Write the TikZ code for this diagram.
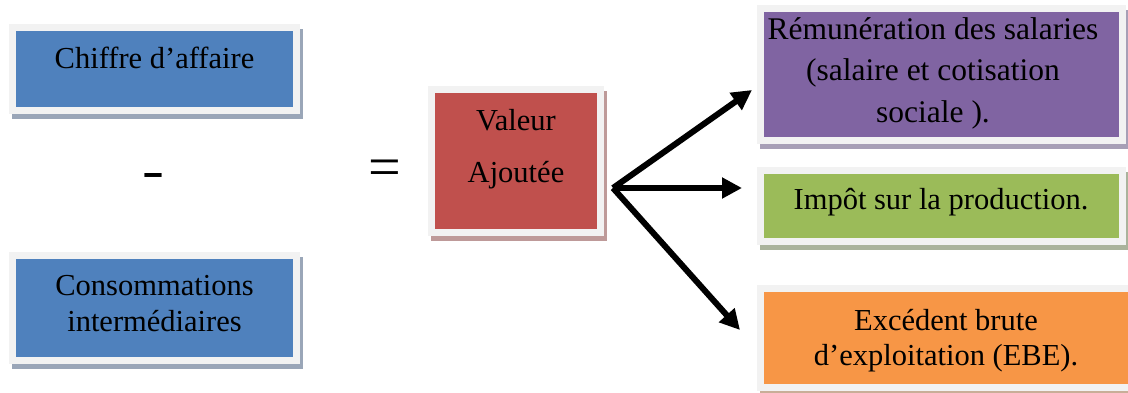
\documentclass[tikz,border=0pt]{standalone}
\usepackage{fontspec}
\setmainfont{Liberation Serif}
\usetikzlibrary{arrows.meta}

\definecolor{blueFill}{HTML}{4F81BD}
\definecolor{redFill}{HTML}{C0504D}
\definecolor{purpleFill}{HTML}{8064A2}
\definecolor{greenFill}{HTML}{9BBB59}
\definecolor{orangeFill}{HTML}{F79646}
\definecolor{frameGray}{HTML}{F2F2F2}
\definecolor{blueShadow}{HTML}{9AA6B8}
\definecolor{redShadow}{HTML}{BE9A99}
\definecolor{purpleShadow}{HTML}{A79FB6}
\definecolor{greenShadow}{HTML}{AAB39C}
\definecolor{orangeShadow}{HTML}{C8AE98}

\tikzset{
  framedbox/.style 2 args={
    rectangle, inner sep=0pt, fill=#1, draw=frameGray, line width=7pt,
    preaction={draw=#2, fill=#2, line width=7pt,
      transform canvas={xshift=3pt, yshift=-5pt}}
  },
  % anchored on the baseline of the last line
  boxtext/.style={anchor=base, inner sep=0pt, align=center,
    font=\fontsize{30.5}{#1}\selectfont},
  boxtext/.default=36,
  fork/.style={line width=6pt,
    -{Triangle[length=20pt, width=20pt]}}
}

\begin{document}
\begin{tikzpicture}[x=1pt, y=-1pt]
  \useasboundingbox (0,0) rectangle (1128,392);
  \clip (0,0) rectangle (1128,392);

  % left operands
  \node[framedbox={blueFill}{blueShadow}, minimum width=284pt, minimum height=83pt]
    (chiffre) at (154.5,69) {};
  \node[boxtext] (chiffreT) at (154.5,68) {Chiffre d’affaire};

  \node[framedbox={blueFill}{blueShadow}, minimum width=284pt, minimum height=105pt]
    (conso) at (154.5,308) {};
  \node[boxtext=36] (consoT) at (154.5,331) {Consommations\\intermédiaires};

  % operators
  \node[anchor=base, inner sep=0pt] (minus) at (153,186.7)
    {\fontsize{60}{60}\selectfont\bfseries\scalebox{1.1}[0.78]{-}};
  \node[anchor=base, inner sep=0pt] (equals) at (384.5,186)
    {\fontsize{58}{58}\selectfont =};

  % result
  \node[framedbox={redFill}{redShadow}, minimum width=169pt, minimum height=143pt]
    (valeur) at (516,161) {};
  \node[boxtext=52] (valeurT) at (516,182) {Valeur\\Ajoutée};

  % distribution
  \node[framedbox={purpleFill}{purpleShadow}, minimum width=362pt, minimum height=132pt]
    (remu) at (941.5,74.5) {};
  \node[boxtext=41.5, font=\fontsize{31.5}{41.5}\selectfont] (remuT) at (933,122)
    {Rémunération des salaries\\(salaire et cotisation\\sociale ).};

  \node[framedbox={greenFill}{greenShadow}, minimum width=362pt, minimum height=71pt]
    (impot) at (941.5,206) {};
  \node[boxtext] (impotT) at (941,209) {Impôt sur la production.};

  \node[framedbox={orangeFill}{orangeShadow}, minimum width=376pt, minimum height=99pt]
    (ebe) at (948.5,338) {};
  \node[boxtext=35.5] (ebeT) at (946,365.5)
    {Excédent brute\\d’exploitation (EBE).};

  % arrows
  \coordinate (split) at (613,188);
  \coordinate (toRemu) at (752,90);
  \coordinate (toImpot) at (742,188);
  \coordinate (toEbe) at (740,330);
  \draw[fork] (split) -- (toRemu);
  \draw[fork] (split) -- (toImpot);
  \draw[fork] (split) -- (toEbe);
\end{tikzpicture}
\end{document}
